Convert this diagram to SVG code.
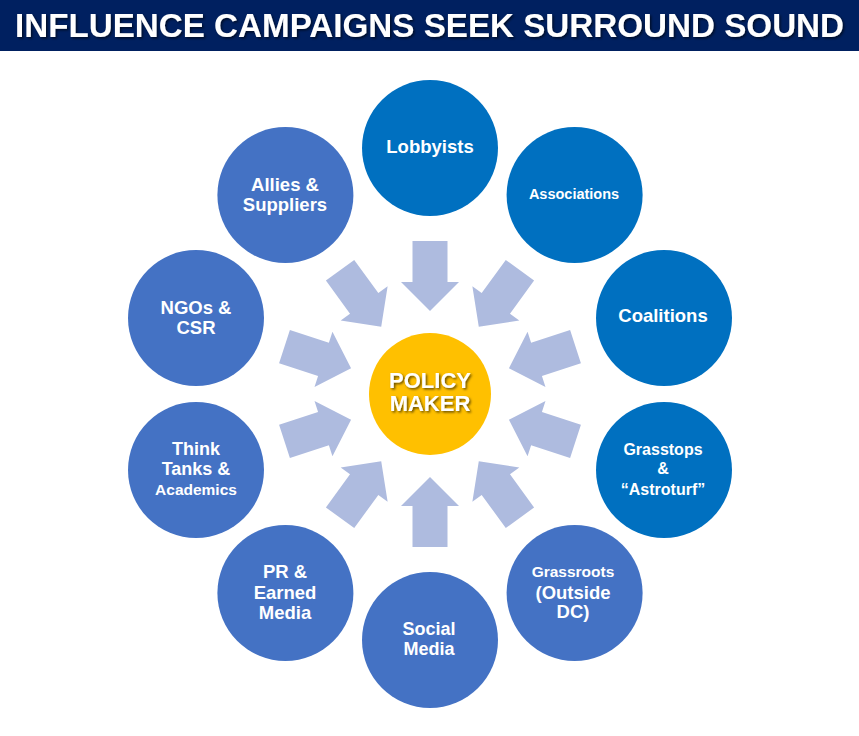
<svg xmlns="http://www.w3.org/2000/svg" xmlns:xlink="http://www.w3.org/1999/xlink" width="859" height="736" viewBox="0 0 859 736">
<style>
.lbl{font-family:"Liberation Sans",Arial,sans-serif;font-weight:bold;fill:#fff;text-anchor:middle}
.blue1{fill:#0070C0}
.blue2{fill:#4472C4}
.arr{fill:#AEBBDF}
</style>
<defs>
<filter id="sh" x="-10%" y="-30%" width="120%" height="160%">
<feDropShadow dx="1.5" dy="1.5" stdDeviation="0.8" flood-color="#000" flood-opacity="0.6"/>
</filter>
<polygon id="arrow" points="-153,-17.5 -112,-17.5 -112,-29 -83,0 -112,29 -112,17.5 -153,17.5"/>
</defs>
<rect width="859" height="736" fill="#fff"/>
<g id="title">
<rect x="0" y="0" width="859" height="51" fill="#002060"/>
<text x="429.5" y="37" text-anchor="middle" font-family="'Liberation Sans',Arial,sans-serif" font-weight="bold" font-size="33.2" fill="#fff" filter="url(#sh)">INFLUENCE CAMPAIGNS SEEK SURROUND SOUND</text>
</g>
<g id="connectors" class="arr">
<use xlink:href="#arrow" transform="translate(430,394) rotate(90)"/>
<use xlink:href="#arrow" transform="translate(430,394) rotate(126)"/>
<use xlink:href="#arrow" transform="translate(430,394) rotate(162)"/>
<use xlink:href="#arrow" transform="translate(430,394) rotate(198)"/>
<use xlink:href="#arrow" transform="translate(430,394) rotate(234)"/>
<use xlink:href="#arrow" transform="translate(430,394) rotate(270)"/>
<use xlink:href="#arrow" transform="translate(430,394) rotate(306)"/>
<use xlink:href="#arrow" transform="translate(430,394) rotate(342)"/>
<use xlink:href="#arrow" transform="translate(430,394) rotate(18)"/>
<use xlink:href="#arrow" transform="translate(430,394) rotate(54)"/>
</g>
<g id="policy-maker">
<circle cx="430" cy="394" r="61" fill="#FFC000"/>
<text class="lbl" font-size="22" filter="url(#sh)"><tspan x="430" y="388">POLICY</tspan><tspan x="430" y="411">MAKER</tspan></text>
</g>
<g id="lobbyists">
<circle class="blue1" cx="430" cy="148" r="68"/>
<text class="lbl" font-size="18.5" x="430" y="153">Lobbyists</text>
</g>
<g id="associations">
<circle class="blue1" cx="574.6" cy="195" r="68"/>
<text class="lbl" font-size="14.5" x="574" y="199">Associations</text>
</g>
<g id="coalitions">
<circle class="blue1" cx="664" cy="318" r="68"/>
<text class="lbl" font-size="18.5" x="663" y="322">Coalitions</text>
</g>
<g id="grasstops">
<circle class="blue1" cx="664" cy="470" r="68"/>
<text class="lbl" font-size="16"><tspan x="663" y="455">Grasstops</tspan><tspan x="663" y="474">&amp;</tspan><tspan x="663" y="495">“Astroturf”</tspan></text>
</g>
<g id="grassroots">
<circle class="blue2" cx="574.6" cy="593" r="68"/>
<text class="lbl"><tspan x="573" y="577" font-size="15.5">Grassroots</tspan><tspan x="573" y="598.5" font-size="18.5">(Outside</tspan><tspan x="573" y="618" font-size="18.5">DC)</tspan></text>
</g>
<g id="social-media">
<circle class="blue2" cx="430" cy="640" r="68"/>
<text class="lbl" font-size="18"><tspan x="429" y="634.5">Social</tspan><tspan x="429" y="654.5">Media</tspan></text>
</g>
<g id="pr-earned-media">
<circle class="blue2" cx="285.4" cy="593" r="68"/>
<text class="lbl" font-size="18.5"><tspan x="285" y="578">PR &amp;</tspan><tspan x="285" y="598.5">Earned</tspan><tspan x="285" y="618.5">Media</tspan></text>
</g>
<g id="think-tanks">
<circle class="blue2" cx="196" cy="470" r="68"/>
<text class="lbl"><tspan x="196" y="454.5" font-size="18">Think</tspan><tspan x="196" y="474.5" font-size="18">Tanks &amp;</tspan><tspan x="196" y="494.5" font-size="15.5">Academics</tspan></text>
</g>
<g id="ngos-csr">
<circle class="blue2" cx="196" cy="318" r="68"/>
<text class="lbl" font-size="18.5"><tspan x="196" y="313.5">NGOs &amp;</tspan><tspan x="196" y="333.5">CSR</tspan></text>
</g>
<g id="allies-suppliers">
<circle class="blue2" cx="285.4" cy="195" r="68"/>
<text class="lbl" font-size="18.5"><tspan x="285" y="191">Allies &amp;</tspan><tspan x="285" y="211">Suppliers</tspan></text>
</g>
</svg>
